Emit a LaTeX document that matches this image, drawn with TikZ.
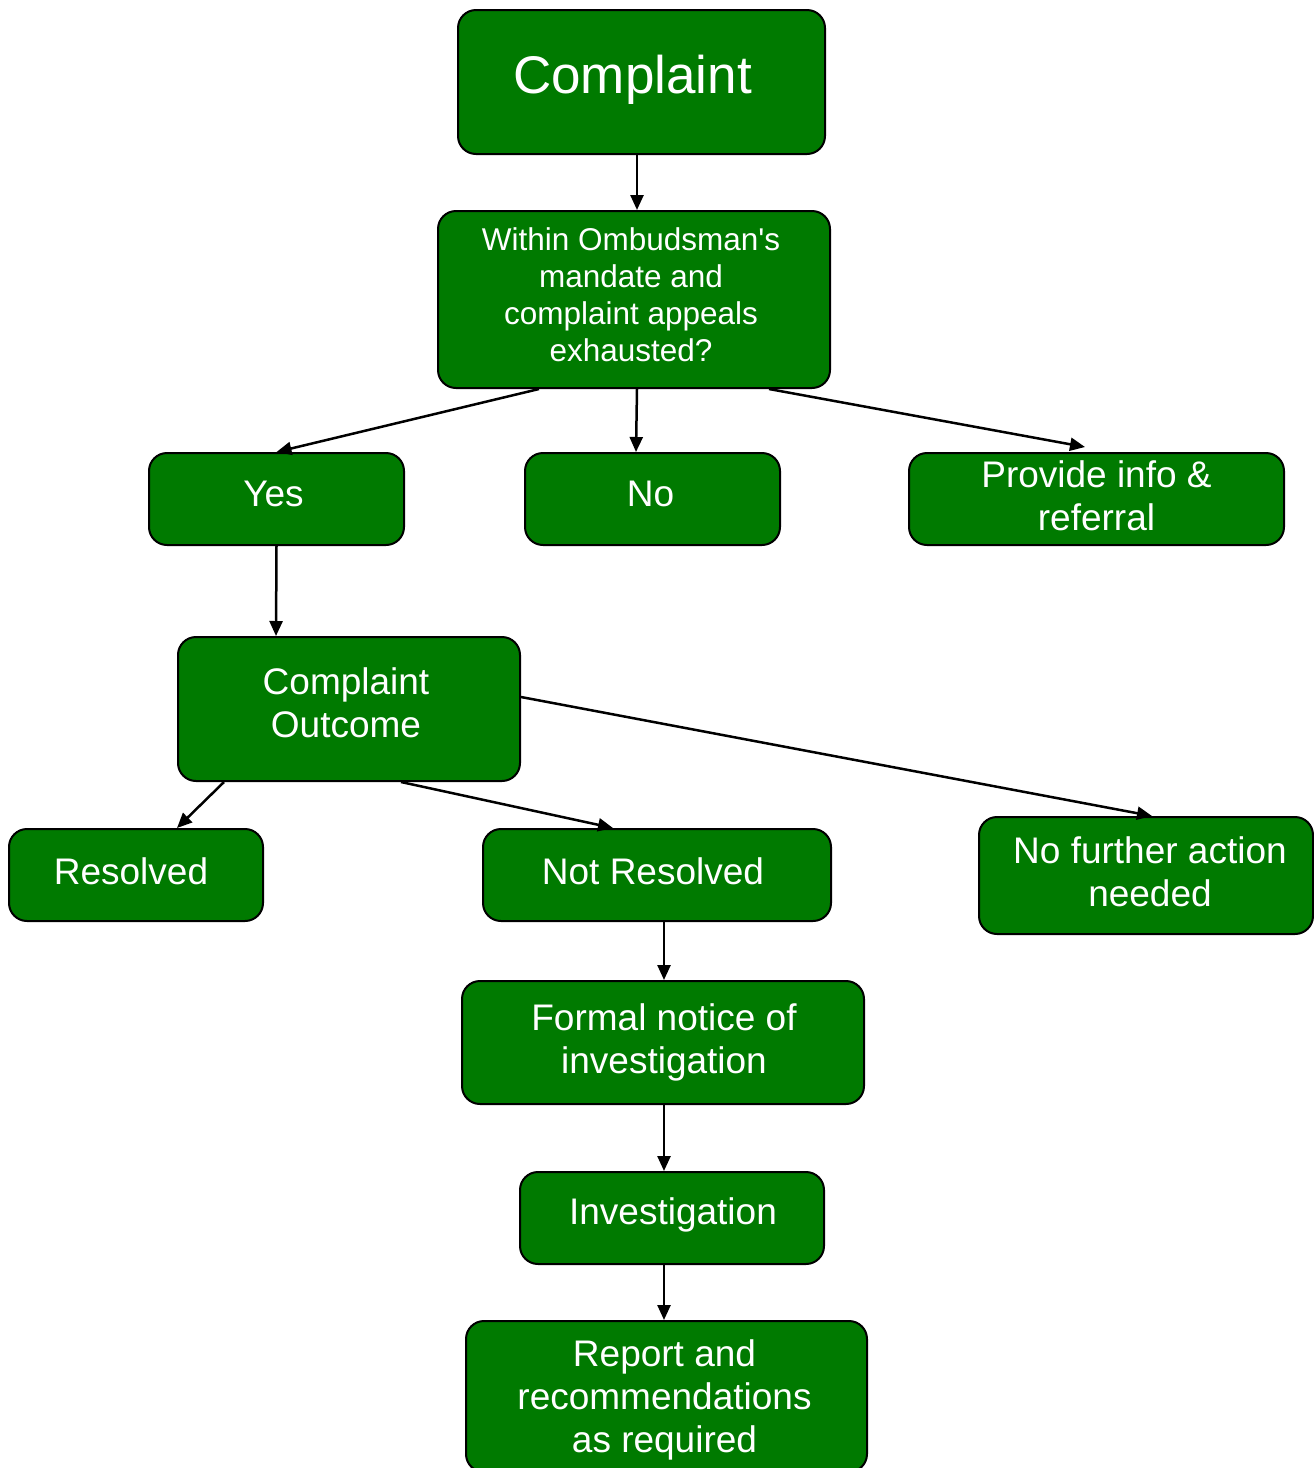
\documentclass[tikz,border=0pt]{standalone}
\usepackage{fontspec}
\setmainfont{Liberation Sans}
\usetikzlibrary{arrows.meta,calc}
\definecolor{boxgreen}{RGB}{0,122,0}
\begin{document}
\begin{tikzpicture}[x=1pt,y=-1pt,
  box/.style={draw=black, line width=2pt, fill=boxgreen, rounded corners=18pt, inner sep=0pt},
  txt/.style={text=white, align=center, inner sep=0pt},
  f37/.style={font=\fontsize{37}{43}\selectfont},
  f32/.style={font=\fontsize{31.5}{37}\selectfont},
  f53/.style={font=\fontsize{53}{60}\selectfont},
  arr/.style={-{Triangle[length=15pt,width=13pt]}, line width=2.5pt}]
\useasboundingbox (0,0) rectangle (1314,1468);
\path[fill=white] (0,0) rectangle (1314,1468);

\node[box, minimum width=367pt, minimum height=144pt] (c) at (641.5,82) {};
\node[txt, f53] (ct) at ($(c)+(-9,-2)$) {Complaint};
\node[box, minimum width=392pt, minimum height=177pt] (w) at (634,299.5) {};
\node[txt, f32] (wt) at ($(w)+(-3,-5)$) {Within Ombudsman\textquotesingle s\\mandate and\\complaint appeals\\exhausted?};
\node[box, minimum width=255pt, minimum height=92pt] (yes) at (276.5,499) {};
\node[txt, f37] (yest) at ($(yes)+(-3,-5)$) {Yes};
\node[box, minimum width=255pt, minimum height=92pt] (no) at (652.5,499) {};
\node[txt, f37] (not) at ($(no)+(-2,-5)$) {No};
\node[box, minimum width=375pt, minimum height=92pt] (p) at (1096.5,499) {};
\node[txt, f37] (pt) at ($(p)+(0,-3)$) {Provide info \&\\referral};
\node[box, minimum width=342pt, minimum height=144pt] (out) at (349,709) {};
\node[txt, f37] (outt) at ($(out)+(-3,-6)$) {Complaint\\Outcome};
\node[box, minimum width=254pt, minimum height=92pt] (res) at (136,875) {};
\node[txt, f37] (rest) at ($(res)+(-5,-4)$) {Resolved};
\node[box, minimum width=348pt, minimum height=92pt] (nr) at (657,875) {};
\node[txt, f37] (nrt) at ($(nr)+(-4,-4)$) {Not Resolved};
\node[box, minimum width=334pt, minimum height=117pt] (nf) at (1146,875.5) {};
\node[txt, f37] (nft) at ($(nf)+(4,-4)$) {No further action\\needed};
\node[box, minimum width=402pt, minimum height=123pt] (fn) at (663,1042.5) {};
\node[txt, f37] (fnt) at ($(fn)+(1,0)$) {Formal notice of\\investigation};
\node[box, minimum width=304pt, minimum height=92pt] (inv) at (672,1218) {};
\node[txt, f37] (invt) at ($(inv)+(1,-3)$) {Investigation};
\node[box, minimum width=401pt, minimum height=151pt] (rep) at (666.5,1396.5) {};
\node[txt, f37] (rept) at ($(rep)+(-2,3)$) {Report and\\recommendations\\as required};

\draw[arr] ($(c.south)+(-4.5,0)$) -- ($(w.north)+(3,0)$);
\draw[arr] ($(w.south west)+(102,0)$) -- (yes.north);
\draw[arr] ($(w.south)+(3,0)$) -- ($(no.north west)+(112,0)$);
\draw[arr] ($(w.south west)+(332,0)$) -- ($(p.north west)+(177,-5)$);
\draw[arr] (yes.south) -- ($(out.north west)+(99,0)$);
\draw[arr] ($(out.east)+(0,-12)$) -- ($(nf.north west)+(174,0)$);
\draw[arr] ($(out.south west)+(47,0)$) -- ($(res.north west)+(169,0)$);
\draw[arr] ($(out.south west)+(224,0)$) -- ($(nr.north west)+(131,0)$);
\draw[arr] ($(nr.south west)+(182,0)$) -- ($(fn.north west)+(203,0)$);
\draw[arr] ($(fn.south west)+(203,0)$) -- ($(inv.north west)+(145,0)$);
\draw[arr] ($(inv.south west)+(145,0)$) -- ($(rep.north west)+(199,0)$);
\end{tikzpicture}
\end{document}
